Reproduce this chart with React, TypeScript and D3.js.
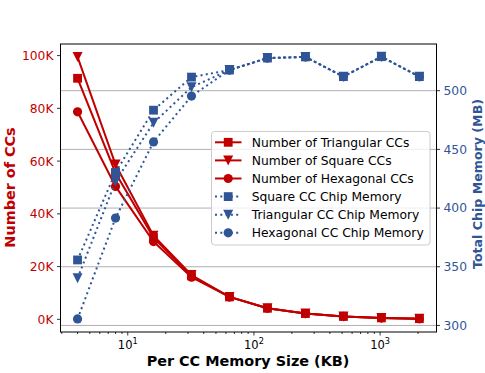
import React from "react";
import * as d3 from "d3";

// per-CC memory sizes (KB)
const memSizes = [4, 8, 16, 32, 64, 128, 256, 512, 1024, 2048];

// number of CCs
const triCount = [91400, 55500, 31000, 16500, 8500, 4200, 2200, 1100, 550, 250];
const sqCount = [99500, 58700, 31700, 16800, 8500, 4200, 2200, 1100, 550, 250];
const hexCount = [78700, 50400, 29500, 16000, 8500, 4200, 2200, 1100, 550, 250];

// total chip memory (MB)
const sqMem = [355.8, 430.4, 483.4, 511.6, 517.6, 527.8, 528.8, 512.0, 529.0, 512.0];
const triMem = [340.2, 422.7, 472.6, 503.0, 517.6, 527.8, 528.8, 512.0, 529.0, 512.0];
const hexMem = [305.5, 391.5, 456.4, 495.4, 517.6, 527.8, 528.8, 512.0, 529.0, 512.0];

const leftTicks = [0, 20000, 40000, 60000, 80000, 100000];
const rightTicks = [300, 350, 400, 450, 500];
const xMajor = [10, 100, 1000];

const RED = "#c00000";
const BLUE = "#2f5597";
const FONT = "DejaVu Sans, sans-serif";

const W = 485, H = 373;
const plot = { left: 60.5, right: 436.5, top: 44, bottom: 332 };

const x = d3.scaleLog().domain([2.93, 2800]).range([plot.left, plot.right]);
const yL = d3.scaleLinear().domain([-4800, 104400]).range([plot.bottom, plot.top]);
const yR = d3.scaleLinear().domain([294.4, 539.8]).range([plot.bottom, plot.top]);

type Shape = "square" | "tri" | "circle";

function Marker({ cx, cy, shape, color }: { cx: number; cy: number; shape: Shape; color: string }) {
  if (shape === "square") return <rect x={cx - 4.4} y={cy - 4.4} width={8.8} height={8.8} fill={color} />;
  if (shape === "circle") return <circle cx={cx} cy={cy} r={4.6} fill={color} />;
  const s = 5;
  return <path d={`M${cx - s},${cy - s}L${cx + s},${cy - s}L${cx},${cy + s}Z`} fill={color} />;
}

function Series({ vals, y, color, shape, dotted }: { vals: number[]; y: d3.ScaleLinear<number, number>; color: string; shape: Shape; dotted?: boolean }) {
  const pts = memSizes.map((m, i) => [x(m), y(vals[i])] as [number, number]);
  const line = d3.line()(pts) || "";
  return (
    <g>
      <path d={line} fill="none" stroke={color} strokeWidth={2} strokeDasharray={dotted ? "2 3.3" : undefined} />
      {pts.map((p, i) => <Marker key={i} cx={p[0]} cy={p[1]} shape={shape} color={color} />)}
    </g>
  );
}

const legendItems: { label: string; color: string; shape: Shape; dotted: boolean }[] = [
  { label: "Number of Triangular CCs", color: RED, shape: "square", dotted: false },
  { label: "Number of Square CCs", color: RED, shape: "tri", dotted: false },
  { label: "Number of Hexagonal CCs", color: RED, shape: "circle", dotted: false },
  { label: "Square CC Chip Memory", color: BLUE, shape: "square", dotted: true },
  { label: "Triangular CC Chip Memory", color: BLUE, shape: "tri", dotted: true },
  { label: "Hexagonal CC Chip Memory", color: BLUE, shape: "circle", dotted: true },
];

export default function App() {
  const minor: number[] = [];
  for (const dec of [1, 10, 100, 1000]) {
    for (let k = 2; k <= 9; k++) {
      const v = dec * k;
      if (v >= 2.93 && v <= 2800) minor.push(v);
    }
  }
  return (
    <svg width={W} height={H} style={{ position: "absolute", left: 0, top: 0, fontFamily: FONT }}>
      <rect width={W} height={H} fill="#fff" />
      {/* grid from right axis */}
      {rightTicks.map((t) => (
        <line key={t} x1={plot.left} x2={plot.right} y1={yR(t)} y2={yR(t)} stroke="#b0b0b0" strokeWidth={1} />
      ))}

      <Series vals={triCount} y={yL} color={RED} shape="square" />
      <Series vals={sqCount} y={yL} color={RED} shape="tri" />
      <Series vals={hexCount} y={yL} color={RED} shape="circle" />
      <Series vals={sqMem} y={yR} color={BLUE} shape="square" dotted />
      <Series vals={triMem} y={yR} color={BLUE} shape="tri" dotted />
      <Series vals={hexMem} y={yR} color={BLUE} shape="circle" dotted />

      <rect x={plot.left} y={plot.top} width={plot.right - plot.left} height={plot.bottom - plot.top} fill="none" stroke="#000" strokeWidth={1} />

      {/* x axis */}
      {minor.map((m) => (
        <line key={m} x1={x(m)} x2={x(m)} y1={plot.bottom} y2={plot.bottom + 2} stroke="#000" strokeWidth={0.8} />
      ))}
      {xMajor.map((m, i) => (
        <g key={m}>
          <line x1={x(m)} x2={x(m)} y1={plot.bottom} y2={plot.bottom + 3.5} stroke="#000" strokeWidth={0.8} />
          <text x={x(m)} y={348.5} fontSize={11.5} textAnchor="middle" fill="#000">
            10<tspan fontSize={8.2} dy={-5}>{i + 1}</tspan>
          </text>
        </g>
      ))}
      <text x={248} y={365.5} fontSize={14.4} fontWeight="bold" textAnchor="middle" fill="#000">Per CC Memory Size (KB)</text>

      {/* left axis */}
      {leftTicks.map((t) => (
        <g key={t}>
          <line x1={plot.left - 3.5} x2={plot.left} y1={yL(t)} y2={yL(t)} stroke="#000" strokeWidth={0.8} />
          <text x={plot.left - 7} y={yL(t)} dy="0.36em" fontSize={12.3} textAnchor="end" fill={RED}>{`${t / 1000}K`}</text>
        </g>
      ))}
      <text transform={`translate(15,187.5) rotate(-90)`} fontSize={14.4} fontWeight="bold" textAnchor="middle" fill={RED}>Number of CCs</text>

      {/* right axis */}
      {rightTicks.map((t) => (
        <g key={t}>
          <line x1={plot.right} x2={plot.right + 3.5} y1={yR(t)} y2={yR(t)} stroke="#000" strokeWidth={0.8} />
          <text x={plot.right + 7} y={yR(t)} dy="0.36em" fontSize={12.3} fill={BLUE}>{t}</text>
        </g>
      ))}
      <text transform={`translate(481.5,184) rotate(-90)`} fontSize={12.6} fontWeight="bold" textAnchor="middle" fill={BLUE}>Total Chip Memory (MB)</text>

      {/* legend */}
      <rect x={211.5} y={131.5} width={218.5} height={113.5} rx={3} fill="#fff" fillOpacity={0.8} stroke="#cccccc" strokeWidth={1} />
      {legendItems.map((it, i) => {
        const cy = 142.3 + i * 18.1;
        return (
          <g key={it.label}>
            <line x1={215} x2={241.5} y1={cy} y2={cy} stroke={it.color} strokeWidth={2} strokeDasharray={it.dotted ? "2 3.3" : undefined} />
            <Marker cx={228.2} cy={cy} shape={it.shape} color={it.color} />
            <text x={251.7} y={cy} dy="0.36em" fontSize={12.3} fill="#000">{it.label}</text>
          </g>
        );
      })}
    </svg>
  );
}
